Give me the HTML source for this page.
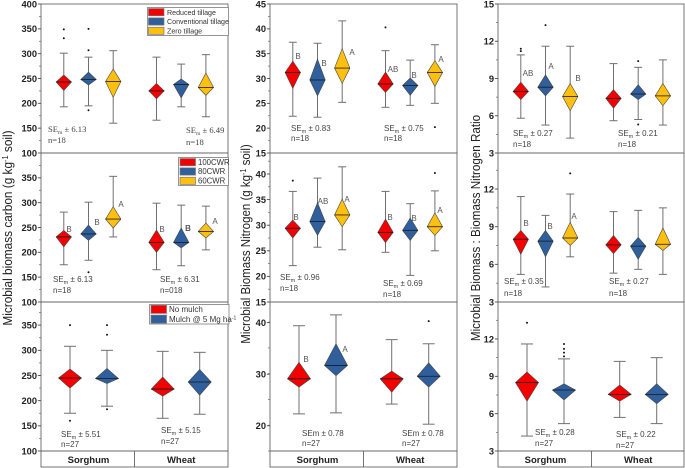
<!DOCTYPE html>
<html lang="en">
<head>
<meta charset="utf-8">
<title>Microbial biomass box charts</title>
<style>
html,body{margin:0;padding:0;background:#fff;width:685px;height:468px;overflow:hidden}
svg{display:block;filter:blur(0.3px)}
text{font-family:"Liberation Sans",sans-serif;fill:#262626}
.tick{font-size:9.3px;font-weight:bold;fill:#222}
.cat{font-size:9.5px;font-weight:bold;fill:#222}
.title{font-size:12.8px;fill:#222}
.ann{font-size:8px;fill:#444}
.serif{font-family:"Liberation Serif",serif;font-size:8.6px}
.letter{font-size:8px;fill:#555}
.leg{fill:#333}
</style>
</head>
<body>
<svg id="chart" xmlns="http://www.w3.org/2000/svg" width="685" height="468" viewBox="0 0 685 468"></svg>
<script>
// ---------- Data ----------
const categories = ['Sorghum', 'Wheat'];

const tillageLegend = ['Reduced tillage', 'Conventional tillage', 'Zero tillage'];
const cwrLegend = ['100CWR', '80CWR', '60CWR'];

// Carbon, tillage
const carbonTillageHigh = [301, 293, 306, 293, 279, 298];
const carbonTillageLow = [193, 195, 160, 166, 193, 173];
const carbonTillageTop = [257, 263, 269, 240, 249, 261];
const carbonTillageBottom = [226, 237, 212, 209, 211, 216];
const carbonTillageMedian = [243, 248, 244, 225, 238, 232];
const carbonTillageOutliers = [[349, 331], [350, 307, 186], [], [], [], []];
const carbonTillageTicks = [100, 150, 200, 250, 300, 350, 400];

// Carbon, irrigation
const carbonCwrHigh = [281, 301, 353, 299, 295, 293];
const carbonCwrLow = [175, 184, 231, 165, 173, 205];
const carbonCwrTop = [244, 255, 292, 245, 249, 259];
const carbonCwrBottom = [211, 224, 249, 200, 209, 229];
const carbonCwrMedian = [231, 237, 267, 220, 220, 242];
const carbonCwrOutliers = [[], [160], [], [], [], []];
const carbonCwrTicks = [100, 150, 200, 250, 300, 350];

// Carbon, mulch
const carbonMulchHigh = [308, 300, 298, 296];
const carbonMulchLow = [175, 189, 165, 173];
const carbonMulchTop = [263, 264, 247, 262];
const carbonMulchBottom = [225, 234, 209, 211];
const carbonMulchMedian = [245, 244, 223, 237];
const carbonMulchOutliers = [[350, 160], [350, 331, 183], [], []];
const carbonMulchTicks = [100, 150, 200, 250, 300, 350];

// Nitrogen, tillage
const nitrogenTillageHigh = [37.3, 37.1, 41.6, 35.6, 33.7, 36.8];
const nitrogenTillageLow = [22.4, 22.2, 25.2, 24.2, 24.6, 25];
const nitrogenTillageTop = [33.5, 33.9, 36, 31.3, 30.1, 33.6];
const nitrogenTillageBottom = [28, 26.5, 29, 27.2, 26.6, 28.4];
const nitrogenTillageMedian = [31.2, 29.7, 32.1, 28.9, 28.6, 31.2];
const nitrogenTillageOutliers = [[], [], [], [40.3], [], [20.2]];
const nitrogenTillageTicks = [15, 20, 25, 30, 35, 40, 45];

// Nitrogen, irrigation
const nitrogenCwrHigh = [36.6, 39.2, 41.4, 36.6, 34.2, 36.7];
const nitrogenCwrLow = [22.1, 25.7, 25.2, 24.7, 20.2, 25];
const nitrogenCwrTop = [31, 34.4, 35.1, 31.2, 31.4, 32.4];
const nitrogenCwrBottom = [27.5, 28, 29.7, 26.6, 27, 28];
const nitrogenCwrMedian = [29.4, 30.7, 32, 28.6, 29, 29.7];
const nitrogenCwrOutliers = [[38.7], [], [], [], [], [40.2]];
const nitrogenCwrTicks = [15, 20, 25, 30, 35, 40];

// Nitrogen, mulch
const nitrogenMulchHigh = [39.4, 41.5, 36.7, 35.9];
const nitrogenMulchLow = [22.3, 22.5, 24.2, 20.3];
const nitrogenMulchTop = [32.3, 35.9, 30.6, 32.2];
const nitrogenMulchBottom = [27.5, 29.7, 26.5, 27.5];
const nitrogenMulchMedian = [29.1, 31.7, 29.1, 29.6];
const nitrogenMulchOutliers = [[], [], [], [40.3]];
const nitrogenMulchTicks = [20, 30, 40];

// C:N ratio, tillage
const ratioTillageHigh = [10.9, 11.6, 11.6, 10.2, 9.9, 10.5];
const ratioTillageLow = [5.8, 5.25, 4.2, 5.6, 5.7, 5.25];
const ratioTillageTop = [8.7, 9.3, 8.6, 8.1, 8.5, 8.6];
const ratioTillageBottom = [7.3, 7.6, 6.4, 6.6, 7.3, 6.8];
const ratioTillageMedian = [7.95, 8.3, 7.55, 7.4, 7.75, 7.6];
const ratioTillageOutliers = [[11.2, 11.4], [13.3], [], [], [10.4, 5.3], []];
const ratioTillageTicks = [3, 6, 9, 12, 15];

// C:N ratio, irrigation
const ratioCwrHigh = [11.4, 9.9, 11.6, 10.2, 10.3, 10.5];
const ratioCwrLow = [5.2, 4.2, 6.6, 5.3, 5.6, 5.2];
const ratioCwrTop = [8.7, 8.7, 9.35, 8.3, 8.15, 8.9];
const ratioCwrBottom = [6.8, 6.6, 7.5, 6.85, 6.4, 7.1];
const ratioCwrMedian = [8, 7.85, 8.1, 7.55, 7.45, 7.6];
const ratioCwrOutliers = [[], [], [13.25], [], [], []];
const ratioCwrTicks = [3, 6, 9, 12];

// C:N ratio, mulch
const ratioMulchHigh = [11.6, 10.4, 10.2, 10.5];
const ratioMulchLow = [4.2, 5.2, 5.7, 5.2];
const ratioMulchTop = [9.35, 8.4, 8.3, 8.4];
const ratioMulchBottom = [7, 7.1, 7, 6.8];
const ratioMulchMedian = [8.5, 7.9, 7.55, 7.55];
const ratioMulchOutliers = [[13.3], [11.6, 11.2, 10.9, 10.6], [], []];
const ratioMulchTicks = [3, 6, 9, 12];

// ---------- Layout ----------
const COLORS = ['#f50000', '#2f5f9c', '#fdc010'];
const columns = [{left: 41, right: 228}, {left: 270, right: 457}, {left: 498, right: 684}];
const rows = [{top: 4, bottom: 153}, {top: 153, bottom: 302}, {top: 302, bottom: 451}];

const panels = [
  {col: 0, row: 0, domain: [100, 400], minor: 25, high: carbonTillageHigh, low: carbonTillageLow, top: carbonTillageTop, bottom: carbonTillageBottom, median: carbonTillageMedian, outliers: carbonTillageOutliers, ticks: carbonTillageTicks,
   notes: [[48, 132, 'SE', 'm', ' ± 6.13', 'serif'], [48, 143, 'n=18', '', '', 'serif'], [186, 133, 'SE', 'm', ' ± 6.49', 'serif'], [186, 145, 'n=18', '', '', 'serif']], letters: []},
  {col: 0, row: 1, domain: [100, 400], minor: 25, high: carbonCwrHigh, low: carbonCwrLow, top: carbonCwrTop, bottom: carbonCwrBottom, median: carbonCwrMedian, outliers: carbonCwrOutliers, ticks: carbonCwrTicks,
   notes: [[53, 282, 'SE', 'm', ' ± 6.13'], [53, 293, 'n=18'], [160, 282, 'SE', 'm', '  ± 6.31'], [160, 293, 'n=018']],
   letters: [[69, 229, 'B'], [97, 222, 'B'], [121, 204, 'A'], [162, 229, 'B'], [188, 228, 'B', 'bold'], [215, 221, 'A']]},
  {col: 0, row: 2, domain: [100, 396], minor: 25, high: carbonMulchHigh, low: carbonMulchLow, top: carbonMulchTop, bottom: carbonMulchBottom, median: carbonMulchMedian, outliers: carbonMulchOutliers, ticks: carbonMulchTicks,
   notes: [[61, 437, 'SE', 'm', ' ± 5.51'], [61, 447, 'n=27'], [161, 433, 'SE', 'm', ' ± 5.15'], [161, 444, 'n=27']], letters: []},
  {col: 1, row: 0, domain: [15, 45], minor: 2.5, high: nitrogenTillageHigh, low: nitrogenTillageLow, top: nitrogenTillageTop, bottom: nitrogenTillageBottom, median: nitrogenTillageMedian, outliers: nitrogenTillageOutliers, ticks: nitrogenTillageTicks,
   notes: [[291, 131, 'SE', 'm', ' ± 0.83'], [291, 141, 'n=18'], [384, 131, 'SE', 'm', ' ± 0.75'], [384, 141, 'n=18']],
   letters: [[298, 56, 'B'], [324, 63, 'B'], [352, 52, 'A'], [393, 69, 'AB'], [414, 75, 'B'], [441, 59, 'A']]},
  {col: 1, row: 1, domain: [15, 44.1], minor: 2.5, high: nitrogenCwrHigh, low: nitrogenCwrLow, top: nitrogenCwrTop, bottom: nitrogenCwrBottom, median: nitrogenCwrMedian, outliers: nitrogenCwrOutliers, ticks: nitrogenCwrTicks,
   notes: [[280, 280, 'SE', 'm', ' ± 0.96'], [280, 291, 'n=18'], [383, 286, 'SE', 'm', ' ± 0.69'], [383, 297, 'n=18']],
   letters: [[296, 217, 'B'], [323, 201, 'AB'], [347, 199, 'A'], [390, 217, 'B'], [414, 218, 'B'], [440, 210, 'A']]},
  {col: 1, row: 2, domain: [15.1, 44], minor: 5, high: nitrogenMulchHigh, low: nitrogenMulchLow, top: nitrogenMulchTop, bottom: nitrogenMulchBottom, median: nitrogenMulchMedian, outliers: nitrogenMulchOutliers, ticks: nitrogenMulchTicks,
   notes: [[302, 436, 'SEm ± 0.78'], [302, 446, 'n=27'], [402, 436, 'SEm ± 0.78'], [402, 446, 'n=27']],
   letters: [[306, 359, 'B'], [345, 349, 'A']]},
  {col: 2, row: 0, domain: [3, 15], minor: 1.5, high: ratioTillageHigh, low: ratioTillageLow, top: ratioTillageTop, bottom: ratioTillageBottom, median: ratioTillageMedian, outliers: ratioTillageOutliers, ticks: ratioTillageTicks,
   notes: [[513, 136, 'SE', 'm', ' ± 0.27'], [513, 147, 'n=18'], [618, 136, 'SE', 'm', ' ± 0.21'], [618, 147, 'n=18']],
   letters: [[528, 73, 'AB'], [551, 66, 'A'], [578, 78, 'B']]},
  {col: 2, row: 1, domain: [3, 14.87], minor: 1.5, high: ratioCwrHigh, low: ratioCwrLow, top: ratioCwrTop, bottom: ratioCwrBottom, median: ratioCwrMedian, outliers: ratioCwrOutliers, ticks: ratioCwrTicks,
   notes: [[504, 284, 'SE', 'm', ' ± 0.35'], [504, 296, 'n=18'], [609, 284, 'SE', 'm', ' ± 0.27'], [609, 296, 'n=18']],
   letters: [[526, 223, 'B'], [550, 226, 'B'], [574, 216, 'A']]},
  {col: 2, row: 2, domain: [3, 14.97], minor: 1.5, high: ratioMulchHigh, low: ratioMulchLow, top: ratioMulchTop, bottom: ratioMulchBottom, median: ratioMulchMedian, outliers: ratioMulchOutliers, ticks: ratioMulchTicks,
   notes: [[535, 435, 'SE', 'm', ' ± 0.28'], [535, 446, 'n=27'], [616, 437, 'SE', 'm', ' ± 0.22'], [616, 448, 'n=27']], letters: []}
];

// ---------- Drawing ----------
const svg = document.getElementById('chart');
const NS = 'http://www.w3.org/2000/svg';
function make(tag, attrs, parent) {
  const node = document.createElementNS(NS, tag);
  for (const k in attrs) node.setAttribute(k, attrs[k]);
  (parent || svg).appendChild(node);
  return node;
}
function yAxis(panel) {
  const r = rows[panel.row];
  return v => r.bottom - (v - panel.domain[0]) / (panel.domain[1] - panel.domain[0]) * (r.bottom - r.top);
}
function xAxis(panel, n) {
  const c = columns[panel.col];
  const perGroup = n / categories.length;
  const spacing = perGroup === 3 ? 24.7 : 37;
  return i => {
    const g = Math.floor(i / perGroup);
    const center = c.left + (g === 0 ? 47.5 : 140.2);
    return center + (i % perGroup - (perGroup - 1) / 2) * spacing;
  };
}

panels.forEach(p => {
  const col = columns[p.col], row = rows[p.row];
  const y = yAxis(p);
  const n = p.high.length;
  const x = xAxis(p, n);
  const threeSeries = n === 6;
  const halfW = threeSeries ? 7.7 : 11.5;
  const capW = threeSeries ? 4 : 6;

  const group = make('g', {});
  
  

  const frame = make('rect', {x: col.left, y: row.top, width: col.right - col.left, height: row.bottom - row.top, fill: 'none', stroke: '#666', 'stroke-width': 0.9}, group);
  
  

  // minor ticks
  for (let v = p.domain[0] + 0; v <= p.domain[1] + 1e-6; v += p.minor) {
    const mt = make('line', {x1: col.left - 2, x2: col.left, y1: y(v), y2: y(v), stroke: '#666', 'stroke-width': 0.7}, group);
    
    
  }
  // major ticks
  p.ticks.forEach(v => {
    const t = make('line', {x1: col.left - 3.2, x2: col.left, y1: y(v), y2: y(v), stroke: '#555', 'stroke-width': 0.9}, group);
    
    
    const lab = make('text', {x: col.left - 4, y: y(v) + 3.3, 'text-anchor': 'end', class: 'tick'}, group);
    lab.textContent = v;
    
    
  });

  for (let i = 0; i < n; i++) {
    const cx = x(i);
    const color = COLORS[threeSeries ? i % 3 : i % 2];
    const whisker = make('line', {x1: cx, x2: cx, y1: y(p.high[i]), y2: y(p.low[i]), stroke: '#707070', 'stroke-width': 1}, group);
    
    
    [p.high[i], p.low[i]].forEach(v => {
      const cap = make('line', {x1: cx - capW, x2: cx + capW, y1: y(v), y2: y(v), stroke: '#707070', 'stroke-width': 1}, group);
      
      
    });
    const pts = [[cx, y(p.top[i])], [cx + halfW, y(p.median[i])], [cx, y(p.bottom[i])], [cx - halfW, y(p.median[i])]];
    const dia = make('polygon', {points: pts.map(a => a.join(',')).join(' '), fill: color, stroke: '#444', 'stroke-width': 0.6}, group);
    
    
    const med = make('line', {x1: cx - halfW, x2: cx + halfW, y1: y(p.median[i]), y2: y(p.median[i]), stroke: '#1a1a1a', 'stroke-width': 0.8}, group);
    
    
    p.outliers[i].forEach(v => {
      const dot = make('circle', {cx: cx, cy: y(v), r: 1, fill: '#111'}, group);
      
      
    });
  }

  p.notes.forEach(a => {
    const note = make('text', {x: a[0], y: a[1], class: 'ann' + (a[5] ? ' ' + a[5] : '')}, group);
    
    
    note.appendChild(document.createTextNode(a[2]));
    if (a[3]) {
      const sub = make('tspan', {dy: 2, 'font-size': 5.5}, note);
      sub.textContent = a[3];
      const rest = make('tspan', {dy: -2, 'xml:space': 'preserve'}, note);
      rest.textContent = a[4];
    }
  });
  p.letters.forEach(a => {
    const letter = make('text', {x: a[0], y: a[1] + 3, 'text-anchor': 'middle', class: 'letter', 'font-weight': a[3] || 'normal'}, group);
    letter.textContent = a[2];
    
    
  });
});

// Category band under each column
columns.forEach(c => {
  const band = make('rect', {x: c.left, y: 451, width: c.right - c.left, height: 16, fill: 'none', stroke: '#666', 'stroke-width': 0.9});
  
  
  const midX = c.left + 93.5;
  const div = make('line', {x1: midX, x2: midX, y1: 451, y2: 467, stroke: '#666', 'stroke-width': 0.9});
  
  
  categories.forEach((name, i) => {
    const lab = make('text', {x: c.left + (i === 0 ? 47.5 : 140.2), y: 463, 'text-anchor': 'middle', class: 'cat'});
    lab.textContent = name;
    
    
  });
});

// Y-axis titles
function axisTitle(xPos, yPos, squeeze, before, sup, after) {
  const t = make('text', {transform: 'translate(' + xPos + ',' + yPos + ') rotate(-90) scale(' + squeeze + ',1)', 'text-anchor': 'middle', class: 'title'});
  
  
  t.appendChild(document.createTextNode(before));
  if (sup) {
    const s = make('tspan', {dy: -4, 'font-size': 8}, t);
    s.textContent = sup;
    const r = make('tspan', {dy: 4}, t);
    r.textContent = after;
  }
}
axisTitle(12, 228, 0.925, 'Microbial biomass carbon (g kg', '-1', ' soil)');
axisTitle(250, 244, 0.9, 'Microbial Biomass Nitrogen (g kg', '-1', ' soil)');
axisTitle(480, 228, 0.91, 'Microbial Biomass : Biomass Nitrogen Ratio');

// Legends
function legend(bx, by, bw, bh, swX, swW, swH, labelX, fontSize, items) {
  const box = make('rect', {x: bx, y: by, width: bw, height: bh, fill: '#fff', stroke: '#8a8a8a', 'stroke-width': 0.9});
  
  
  const step = bh / items.length;
  items.forEach((it, i) => {
    const cy = by + step * (i + 0.5);
    const sw = make('rect', {x: swX, y: cy - swH / 2, width: swW, height: swH, fill: COLORS[i], stroke: '#777', 'stroke-width': 0.7});
    
    
    const lab = make('text', {x: labelX, y: cy + 2.7, class: 'leg', 'font-size': fontSize});
    
    
    if (Array.isArray(it)) {
      lab.appendChild(document.createTextNode(it[0]));
      const s = make('tspan', {dy: -2.5, 'font-size': 5}, lab);
      s.textContent = it[1];
    } else {
      lab.textContent = it;
    }
  });
}
legend(147.5, 7.5, 81, 28, 148.5, 15.5, 7.2, 167, 7.1, tillageLegend);
legend(178.5, 157.5, 50, 28, 180, 15.5, 7.2, 198, 7.8, cwrLegend);
legend(149.5, 304.5, 79.5, 19.5, 151, 15.5, 8, 169, 8, ['No mulch', ['Mulch @ 5 Mg ha', '-1']]);
</script>
</body>
</html>
